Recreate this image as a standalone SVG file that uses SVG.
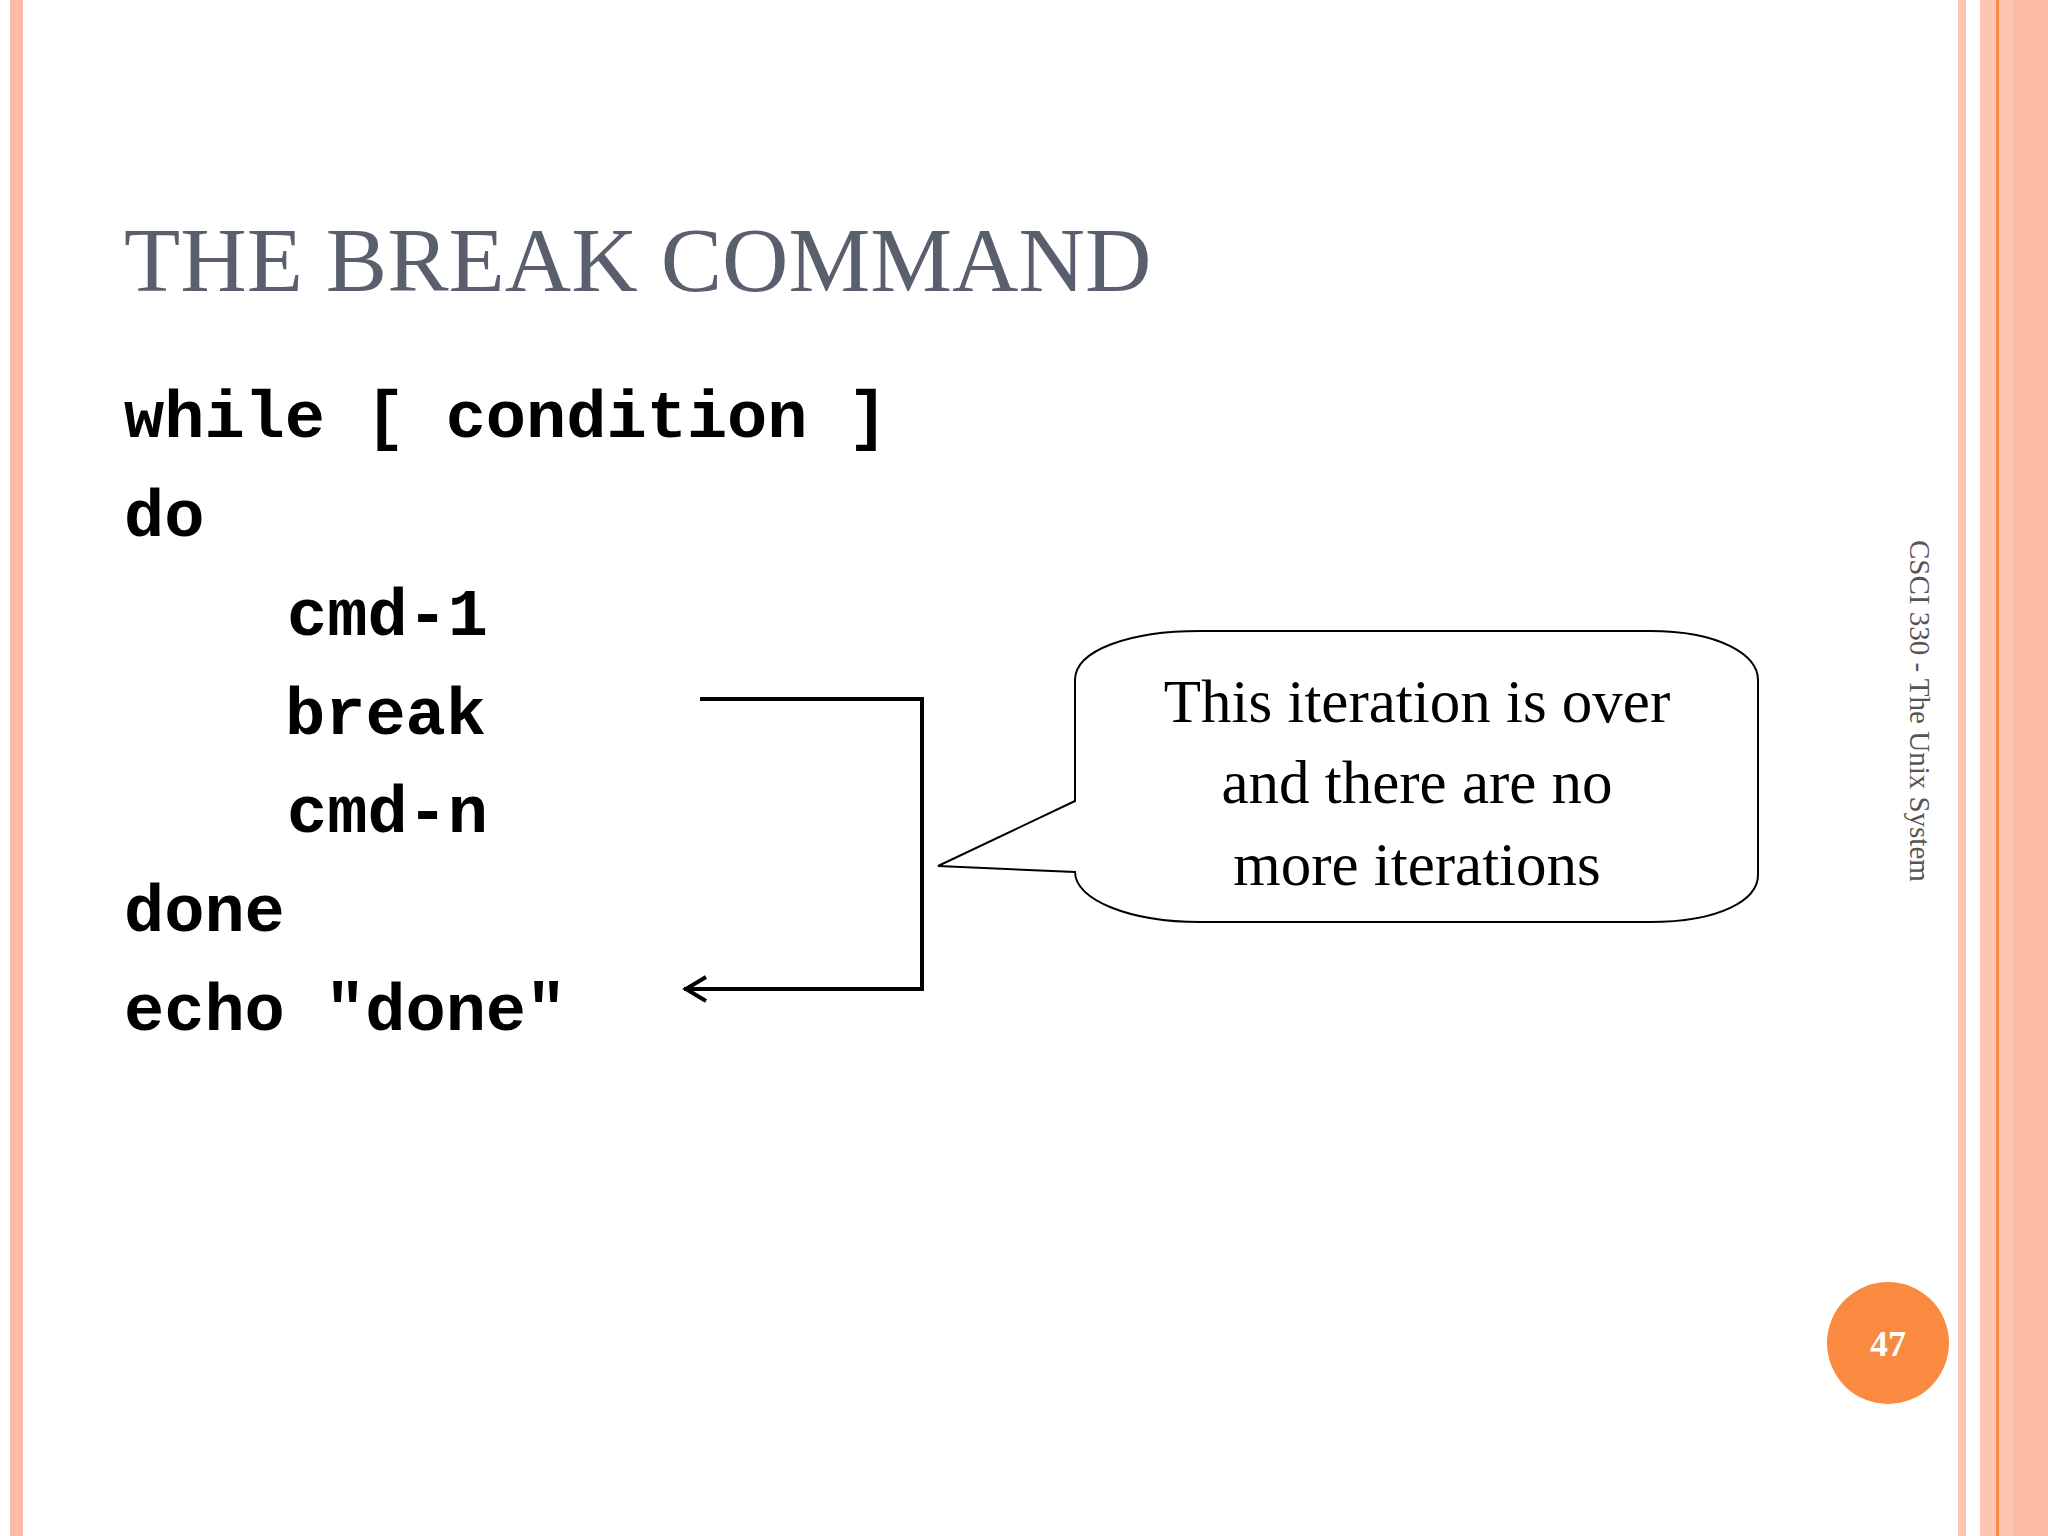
<svg xmlns="http://www.w3.org/2000/svg" width="2048" height="1536" viewBox="0 0 2048 1536">
<style>
.code{font-family:"Liberation Mono",monospace;font-weight:bold;font-size:67px;fill:#000}
.call{font-family:"Liberation Serif",serif;font-size:61px;fill:#000;text-anchor:middle}
</style>
<rect width="2048" height="1536" fill="#fff"/>
<rect x="10" y="0" width="13" height="1536" fill="#fbbba6"/>
<rect x="1958" y="0" width="8" height="1536" fill="#fcc6b3"/>
<rect x="1980" y="0" width="68" height="1536" fill="#fdc6b3"/>
<rect x="1996" y="0" width="3" height="1536" fill="#f4894a"/>
<rect x="2013" y="0" width="35" height="1536" fill="#fdbca6"/>
<text x="124" y="291" font-family="Liberation Serif,serif" font-size="92" fill="#5a5f6e">THE BREAK COMMAND</text>
<g id="code">
<text class="code" x="124" y="437">while [ condition ]</text>
<text class="code" x="124" y="536">do</text>
<text class="code" x="287" y="635">cmd-1</text>
<text class="code" x="285" y="734">break</text>
<text class="code" x="287" y="832">cmd-n</text>
<text class="code" x="124" y="931">done</text>
<text class="code" x="124" y="1030">echo "done"</text>
</g>
<g id="connectors" fill="none" stroke="#000" stroke-width="4">
<polyline points="700,699 922,699 922,989 684,989"/>
<polyline points="706,977 686,989 706,1001"/>
</g>
<g id="callout">
<path d="M1075,801 C1075,760 1075,680 1075,680 C1075,650 1130,631 1200,631 L1650,631 C1720,631 1758,655 1758,680 L1758,875 C1758,900 1720,922 1650,922 L1200,922 C1130,922 1075,900 1075,872 L938,866 Z" fill="#fff" stroke="#000" stroke-width="2"/>
<text class="call" x="1417" y="722">This iteration is over</text>
<text class="call" x="1417" y="803">and there are no</text>
<text class="call" x="1417" y="885">more iterations</text>
</g>
<text transform="translate(1910,540) rotate(90)" font-family="Liberation Serif,serif" font-size="29" fill="#555">CSCI 330 - The Unix System</text>
<circle cx="1888" cy="1343" r="61" fill="#f98a3f"/>
<text x="1888" y="1356" text-anchor="middle" font-family="Liberation Serif,serif" font-weight="bold" font-size="36" fill="#fff">47</text>
</svg>
